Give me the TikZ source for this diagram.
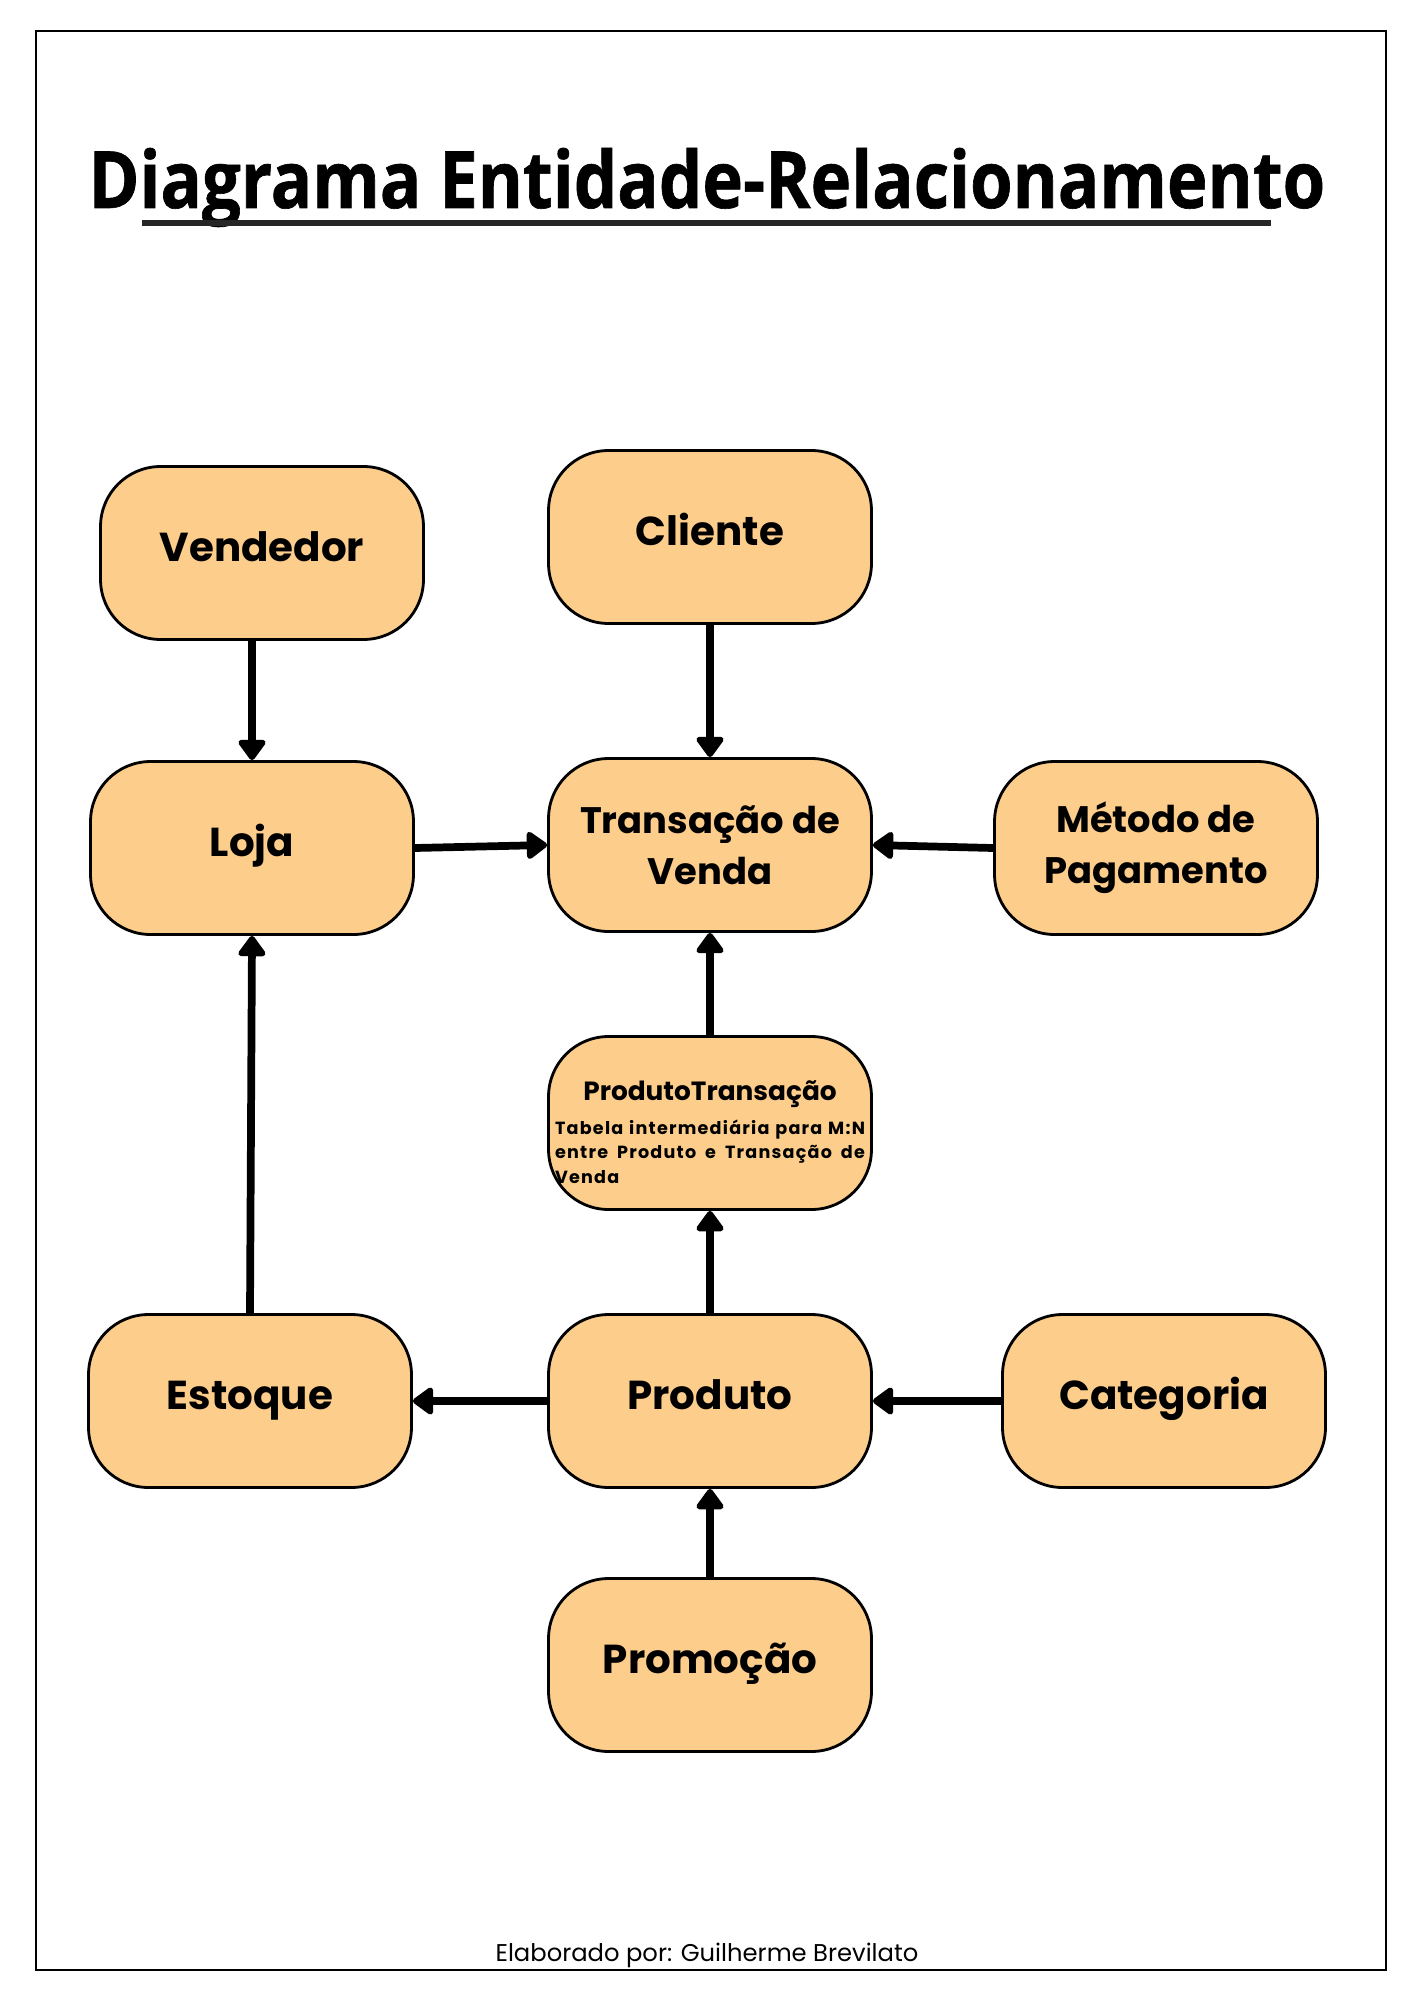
\documentclass[tikz,border=0pt]{standalone}
\usepackage{fontspec}
\setmainfont{Poppins}
\newfontfamily\titlefont[FakeStretch=0.87, FakeBold=0.8]{Open Sans}
\newfontfamily\notefont[LetterSpace=7]{Poppins}
\usetikzlibrary{arrows.meta}
\definecolor{boxfill}{HTML}{FDCD8B}
\tikzset{
  entity/.style={draw, line width=1.6pt, fill=boxfill, rounded corners=1.2cm,
    minimum width=6.46cm, minimum height=3.46cm, align=center,
    font=\bfseries\fontsize{23}{29}\selectfont},
  single/.style={entity, text height=0.55cm, text depth=0.2cm},
  link/.style={line width=4.4pt, -{Triangle[round, length=0.45cm, width=0.62cm]}}
}
\begin{document}
\begin{tikzpicture}[x=0.02cm, y=-0.02cm]
  \useasboundingbox (0,0) rectangle (1414,2000);
  \draw[line width=1.1pt] (36,31) rectangle (1386,1970);

  \node[anchor=base, font=\titlefont\bfseries\fontsize{45}{50}\selectfont] (title) at (707,208) {Diagrama Entidade-Relacionamento};
  \draw[line width=3pt, draw=black!85] (142,223) -- (1271,223);

  \node[single] (vendedor) at (262,553) {Vendedor};
  \node[single] (cliente) at (710,537) {Cliente};
  \node[single] (loja) at (252,848) {Loja};
  \node[entity, font=\bfseries\fontsize{21}{29}\selectfont] (transacao) at (710,845) {Transação de\\Venda};
  \node[entity, font=\bfseries\fontsize{21}{29}\selectfont] (metodo) at (1156,848) {Método de\\Pagamento};
  \node[entity, text width=6.2cm, align=justify, font=\bfseries\fontsize{10}{14}\selectfont] (prodtrans) at (710,1123)
    {{\centering\fontsize{15}{18}\selectfont\rule{0pt}{22pt}ProdutoTransação\par}\vspace{5pt}\noindent{\notefont\bfseries Tabela intermediária para M:N entre Produto e Transação de Venda}};
  \node[single] (estoque) at (250,1401) {Estoque};
  \node[single] (produto) at (710,1401) {Produto};
  \node[single] (categoria) at (1164,1401) {Categoria};
  \node[single] (promocao) at (710,1665) {Promoção};

  \node[font=\fontsize{13.8}{16}\selectfont] (autor) at (707,1955) {Elaborado por: Guilherme Brevilato};

  \draw[link] (vendedor.south -| loja.north) -- (loja.north);
  \draw[link] (cliente.south) -- (transacao.north);
  \draw[link] (loja.east) -- (transacao.west);
  \draw[link] (metodo.west) -- (transacao.east);
  \draw[link] (prodtrans.north) -- (transacao.south);
  \draw[link] (estoque.north) -- (loja.south);
  \draw[link] (produto.north) -- (prodtrans.south);
  \draw[link] (produto.west) -- (estoque.east);
  \draw[link] (categoria.west) -- (produto.east);
  \draw[link] (promocao.north) -- (produto.south);
\end{tikzpicture}
\end{document}
